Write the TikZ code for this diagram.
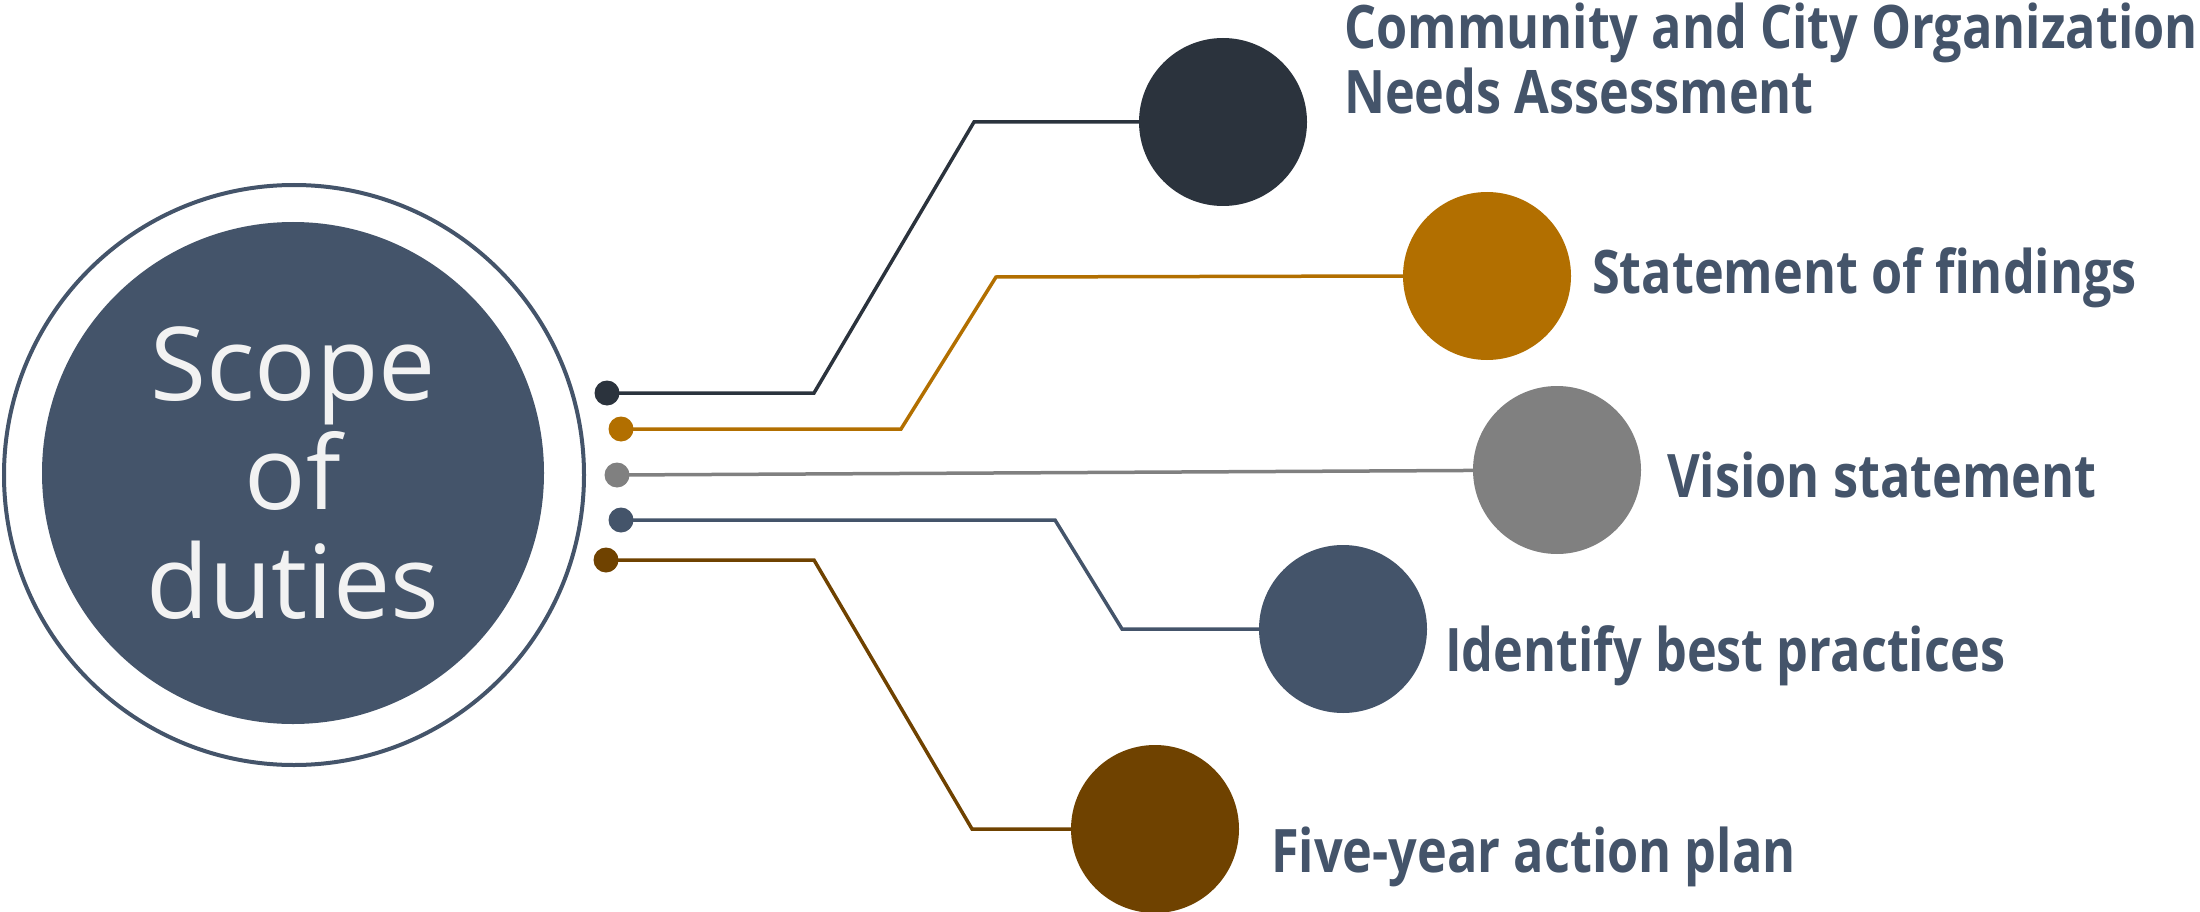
\documentclass[tikz,border=0pt]{standalone}
\usepackage{fontspec}
\setmainfont{Open Sans}
\newfontfamily\lblfont[FakeStretch=0.84]{Open Sans}
\definecolor{cdark}{HTML}{2B333D}
\definecolor{corange}{HTML}{B26F00}
\definecolor{cgray}{HTML}{808080}
\definecolor{cslate}{HTML}{44546A}
\definecolor{cbrown}{HTML}{6F4200}
\definecolor{ctext}{HTML}{F2F2F2}
\tikzset{
  big/.style={circle, fill=#1, minimum size=168pt, inner sep=0pt},
  dot/.style={circle, fill=#1, minimum size=25pt, inner sep=0pt},
  conn/.style={draw=#1, line width=3.5pt},
  lbl/.style={anchor=west, text=cslate, font=\lblfont\fontsize{60}{65}\selectfont\bfseries, align=left, inner sep=0pt}
}
\begin{document}
\begin{tikzpicture}[x=1pt,y=-1pt]
\useasboundingbox (0,0) rectangle (2200,912);
% central circle
\node[circle, draw=cslate, line width=4pt, minimum size=580pt, inner sep=0pt] (outer) at (294,475) {};
\node[circle, fill=cslate, minimum size=502pt, inner sep=0pt, text=ctext, align=center,
      font=\fontsize{102}{109}\selectfont] (hub) at (293,473) {Scope\\of\\duties};
% big circles
\node[big=cdark] (c1) at (1223,122) {};
\node[big=corange] (c2) at (1487,276) {};
\node[big=cgray] (c3) at (1557,470) {};
\node[big=cslate] (c4) at (1343,629) {};
\node[big=cbrown] (c5) at (1155,829) {};
% small dots
\coordinate (p1) at (607,393);
\coordinate (p2) at (621,429);
\coordinate (p3) at (617,475);
\coordinate (p4) at (621,520);
\coordinate (p5) at (606,560);
% bends
\coordinate (b1a) at (814,393); \coordinate (b1b) at (974,122);
\coordinate (b2a) at (901,429); \coordinate (b2b) at (996,277);
\coordinate (b4a) at (1055,520); \coordinate (b4b) at (1122,629);
\coordinate (b5a) at (814,560); \coordinate (b5b) at (972,829);
\draw[conn=cdark] (p1) -- (b1a) -- (b1b) -- (c1);
\draw[conn=corange] (p2) -- (b2a) -- (b2b) -- (c2.west);
\draw[conn=cgray] (p3) -- (c3);
\draw[conn=cslate] (p4) -- (b4a) -- (b4b) -- (c4);
\draw[conn=cbrown] (p5) -- (b5a) -- (b5b) -- (c5);
\node[dot=cdark] (d1) at (p1) {};
\node[dot=corange] (d2) at (p2) {};
\node[dot=cgray] (d3) at (p3) {};
\node[dot=cslate] (d4) at (p4) {};
\node[dot=cbrown] (d5) at (p5) {};
% labels
\node[lbl] (t1) at (1344,59) {Community and City Organization\\Needs Assessment};
\node[lbl] (t2) at (1592,278) {Statement of findings};
\node[lbl] (t3) at (1667,475) {Vision statement};
\node[lbl] (t4) at (1445,656) {Identify best practices};
\node[lbl] (t5) at (1271,857) {Five-year action plan};
\end{tikzpicture}
\end{document}
